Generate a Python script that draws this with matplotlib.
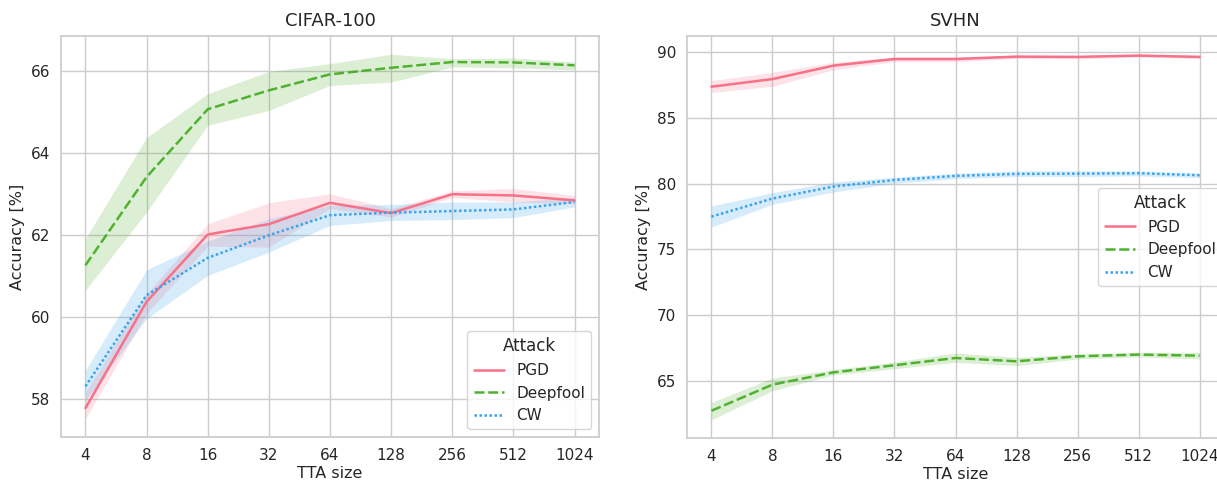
import numpy as np
import matplotlib
matplotlib.use('Agg')
import matplotlib.pyplot as plt
import seaborn as sns

sns.set_theme(style='whitegrid', context='notebook')
plt.rcParams['font.family'] = ['DejaVu Sans']

tta_sizes = [4, 8, 16, 32, 64, 128, 256, 512, 1024]
attacks = ['PGD', 'Deepfool', 'CW']

# CIFAR-100: mean, lower, upper of the confidence band
cifar_pgd = [57.79, 60.38, 62.02, 62.27, 62.79, 62.54, 63.00, 62.97, 62.85]
cifar_pgd_lo = [57.53, 60.09, 61.73, 61.71, 62.65, 62.44, 62.92, 62.81, 62.77]
cifar_pgd_hi = [58.18, 60.58, 62.28, 62.79, 63.01, 62.65, 63.08, 63.14, 62.97]
cifar_deepfool = [61.27, 63.42, 65.07, 65.53, 65.92, 66.08, 66.22, 66.21, 66.14]
cifar_deepfool_lo = [60.66, 62.57, 64.68, 65.04, 65.65, 65.73, 66.10, 66.08, 66.03]
cifar_deepfool_hi = [61.92, 64.38, 65.45, 65.99, 66.18, 66.41, 66.30, 66.32, 66.22]
cifar_cw = [58.32, 60.54, 61.45, 62.00, 62.49, 62.55, 62.59, 62.63, 62.81]
cifar_cw_lo = [57.98, 59.97, 61.02, 61.59, 62.24, 62.36, 62.38, 62.43, 62.69]
cifar_cw_hi = [58.71, 61.16, 61.86, 62.40, 62.73, 62.75, 62.81, 62.81, 62.92]

# SVHN
svhn_pgd = [87.34, 87.92, 88.94, 89.44, 89.44, 89.62, 89.60, 89.70, 89.60]
svhn_pgd_lo = [86.90, 87.37, 88.63, 89.24, 89.24, 89.48, 89.46, 89.58, 89.48]
svhn_pgd_hi = [87.80, 88.43, 89.19, 89.60, 89.60, 89.75, 89.72, 89.80, 89.72]
svhn_deepfool = [62.77, 64.75, 65.68, 66.22, 66.77, 66.52, 66.90, 67.03, 66.95]
svhn_deepfool_lo = [62.09, 64.29, 65.48, 65.96, 66.44, 66.19, 66.70, 66.85, 66.70]
svhn_deepfool_hi = [63.40, 65.25, 65.89, 66.47, 67.15, 66.82, 67.08, 67.20, 67.20]
svhn_cw = [77.49, 78.86, 79.77, 80.27, 80.58, 80.73, 80.75, 80.78, 80.63]
svhn_cw_lo = [76.70, 78.42, 79.36, 80.02, 80.37, 80.53, 80.53, 80.58, 80.45]
svhn_cw_hi = [78.30, 79.31, 80.12, 80.48, 80.78, 80.96, 80.96, 80.96, 80.78]

colors = sns.color_palette('husl', 3)
dashes = [None, (4, 1.5), (1, 1)]

def draw(ax, title, series, legend_loc, anchor=None):
	x = np.arange(len(tta_sizes))
	for i, (name, (mean, lo, hi)) in enumerate(zip(attacks, series)):
		line, = ax.plot(x, mean, color=colors[i], lw=1.8, label=name)
		if dashes[i] is not None:
			line.set_dashes(dashes[i])
		ax.fill_between(x, lo, hi, color=colors[i], alpha=0.2, lw=0)
	ax.set_xticks(x)
	ax.set_xticklabels([str(t) for t in tta_sizes])
	ax.tick_params(axis='both', length=0, labelsize=11)
	ax.tick_params(axis='x', pad=8)
	ax.tick_params(axis='y', pad=8)
	ax.set_xlabel('TTA size', fontsize=11.5, labelpad=2)
	ax.set_ylabel('Accuracy [%]', fontsize=11.5, labelpad=4)
	ax.set_title(title, fontsize=13, pad=7)
	if anchor is None:
		ax.legend(title='Attack', loc=legend_loc, fontsize=11, title_fontsize=12)
	else:
		ax.legend(title='Attack', loc=legend_loc, bbox_to_anchor=anchor,
				  fontsize=11, title_fontsize=12)

fig = plt.figure(figsize=(12.17, 4.82), dpi=100)
W, H = 1217, 482
ax1 = fig.add_axes([61 / W, 45 / H, 538 / W, 401 / H])
ax2 = fig.add_axes([687 / W, 44 / H, 537 / W, 402 / H])

draw(ax1, 'CIFAR-100', [(cifar_pgd, cifar_pgd_lo, cifar_pgd_hi),
						(cifar_deepfool, cifar_deepfool_lo, cifar_deepfool_hi),
						(cifar_cw, cifar_cw_lo, cifar_cw_hi)], 'lower right')
ax1.set_yticks([58, 60, 62, 64, 66])
draw(ax2, 'SVHN', [(svhn_pgd, svhn_pgd_lo, svhn_pgd_hi),
				   (svhn_deepfool, svhn_deepfool_lo, svhn_deepfool_hi),
				   (svhn_cw, svhn_cw_lo, svhn_cw_hi)], 'center right',
	 anchor=(1.0 + 6 / 537, 0.5))
ax2.set_yticks([65, 70, 75, 80, 85, 90])
ax2.spines['right'].set_visible(False)

fig.savefig('out.png', dpi=100)
